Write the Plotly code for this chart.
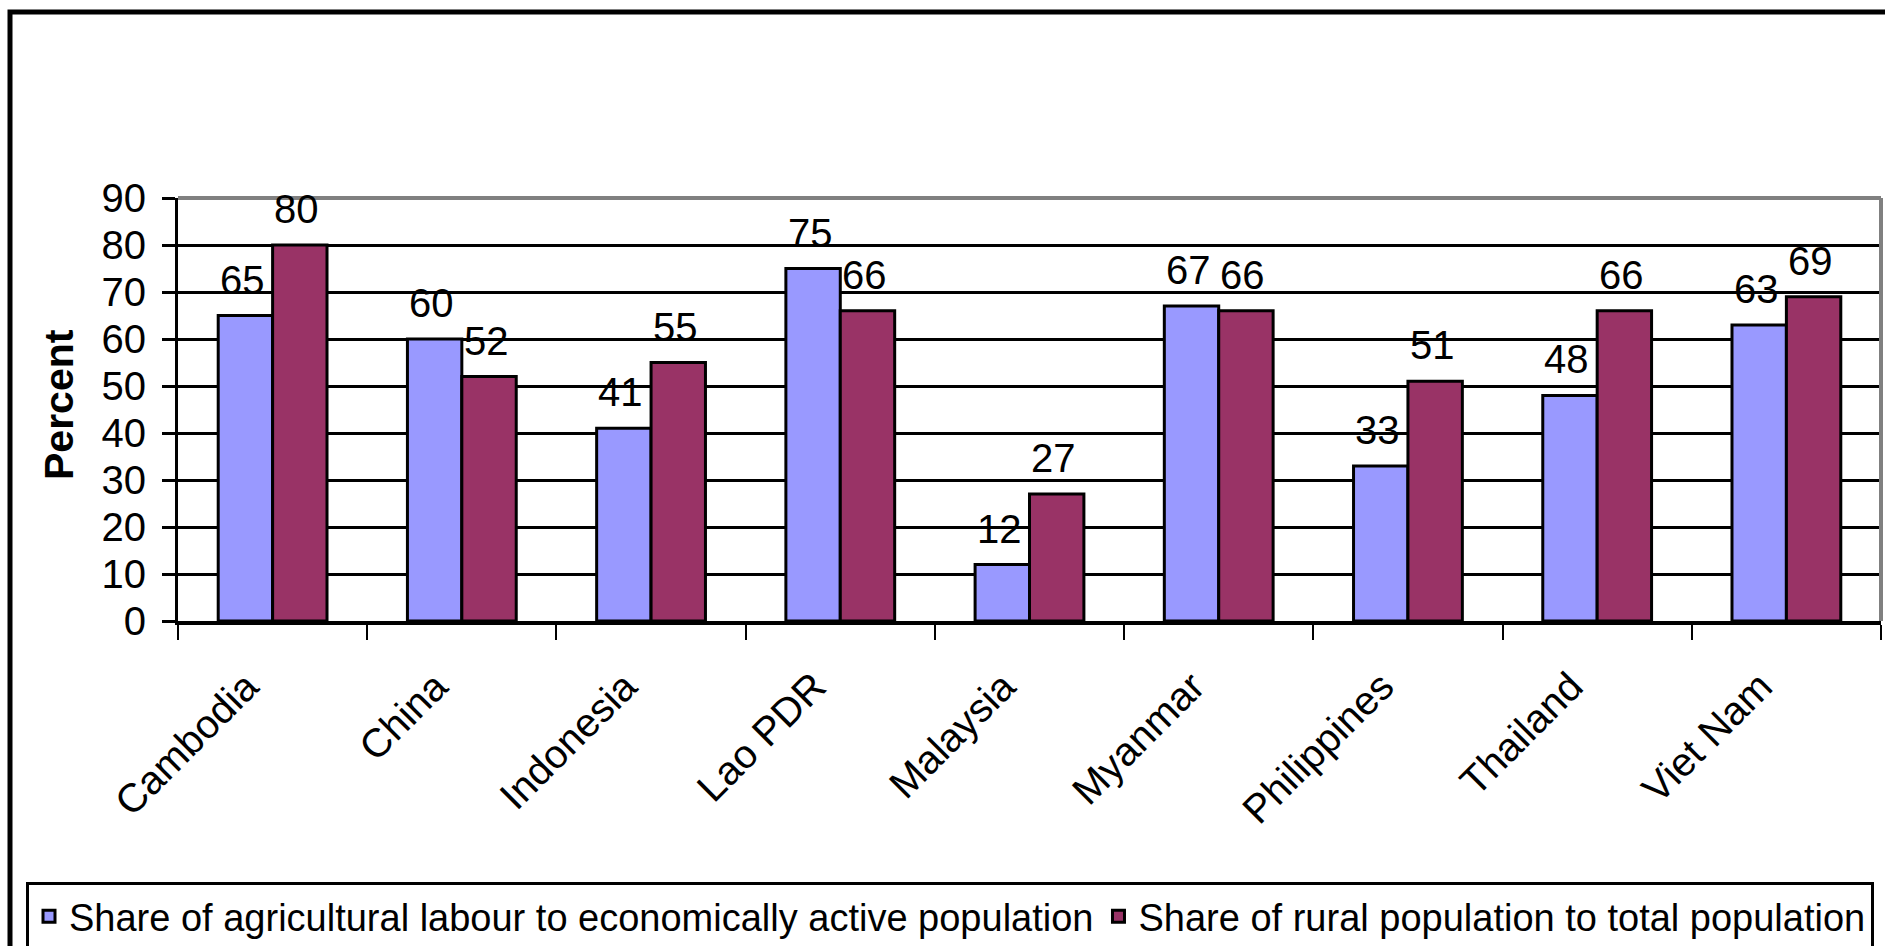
import plotly.graph_objects as go

categories = ["Cambodia", "China", "Indonesia", "Lao PDR", "Malaysia",
              "Myanmar", "Philippines", "Thailand", "Viet Nam"]
agri_labour = [65, 60, 41, 75, 12, 67, 33, 48, 63]
rural_pop = [80, 52, 55, 66, 27, 66, 51, 66, 69]
series_names = ["Share of agricultural labour to economically active population",
                "Share of rural population to total population"]
y_ticks = [0, 10, 20, 30, 40, 50, 60, 70, 80, 90]

FONT = "Liberation Sans, Arial, sans-serif"
COLORS = ["#9999FF", "#993366"]

W, H = 1885, 946
L, R, T, B = 178, 1881, 198, 621
pw, ph = R - L, B - T


def px(x):
    return (x - L) / pw


def py(y):
    return (B - y) / ph


fig = go.Figure()
for vals, name, col in zip([agri_labour, rural_pop], series_names, COLORS):
    fig.add_trace(go.Bar(
        x=categories, y=vals, name=name,
        marker=dict(color=col, line=dict(color="black", width=3)),
    ))

# data labels above each bar (offset to the bar of each series in the group)
bar_half = pw / len(categories) * (1 - 0.425) / 4
annotations = []
for vals, sign in zip([agri_labour, rural_pop], [-1, 1]):
    for c, v in zip(categories, vals):
        annotations.append(dict(
            x=c, y=v, xref="x", yref="y", text=str(v), showarrow=False,
            xanchor="center", yanchor="bottom", xshift=sign * bar_half - 3, yshift=12,
            font=dict(size=40, family=FONT, color="black"),
        ))
annotations.append(dict(
    text="<b>Percent</b>", textangle=-90, xref="paper", yref="paper",
    x=px(59), y=py(405), xanchor="center", yanchor="middle", showarrow=False,
    font=dict(size=41, family=FONT, color="black"),
))

fig.update_layout(
    width=W, height=H,
    margin=dict(l=L, r=W - R, t=T, b=H - B, autoexpand=False),
    paper_bgcolor="white", plot_bgcolor="white",
    font=dict(family=FONT, size=40, color="black"),
    barmode="group", bargap=0.425, bargroupgap=0,
    showlegend=True,
    legend=dict(
        orientation="h", x=px(26), y=py(882), xanchor="left", yanchor="top",
        bordercolor="black", borderwidth=3, bgcolor="white",
        font=dict(size=38, family=FONT, color="black"),
        itemwidth=30, tracegroupgap=0,
    ),
    xaxis=dict(
        showline=True, linecolor="black", linewidth=4,
        ticks="outside", tickson="boundaries", ticklen=15, tickwidth=2, tickcolor="black",
        tickangle=-45, tickfont=dict(size=40, family=FONT),
        ticklabelstandoff=22, ticklabelshift=-26, showgrid=False,
    ),
    yaxis=dict(
        range=[0, 90], tickvals=y_ticks, ticktext=[str(v) for v in y_ticks],
        showline=True, linecolor="black", linewidth=3,
        ticks="outside", ticklen=13, tickwidth=3, tickcolor="black",
        tickfont=dict(size=40, family=FONT), ticklabelstandoff=8,
        showgrid=True, gridcolor="black", gridwidth=3,
        zeroline=False,
    ),
    annotations=annotations,
    shapes=[
        dict(type="line", xref="paper", yref="paper", x0=0, x1=1, y0=1, y1=1,
             line=dict(color="#808080", width=4), layer="above"),
        dict(type="line", xref="paper", yref="paper", x0=1, x1=1, y0=0, y1=1,
             line=dict(color="#808080", width=4), layer="above"),
        dict(type="rect", xref="paper", yref="paper", x0=px(10), x1=px(1900),
             y0=py(960), y1=py(12), line=dict(color="black", width=5), layer="below"),
    ],
)

fig.write_html(
    "out.html",
    config={"displayModeBar": False},
    post_script="document.body.style.margin='0';document.body.style.overflow='hidden';"
                "document.documentElement.style.overflow='hidden';",
)
